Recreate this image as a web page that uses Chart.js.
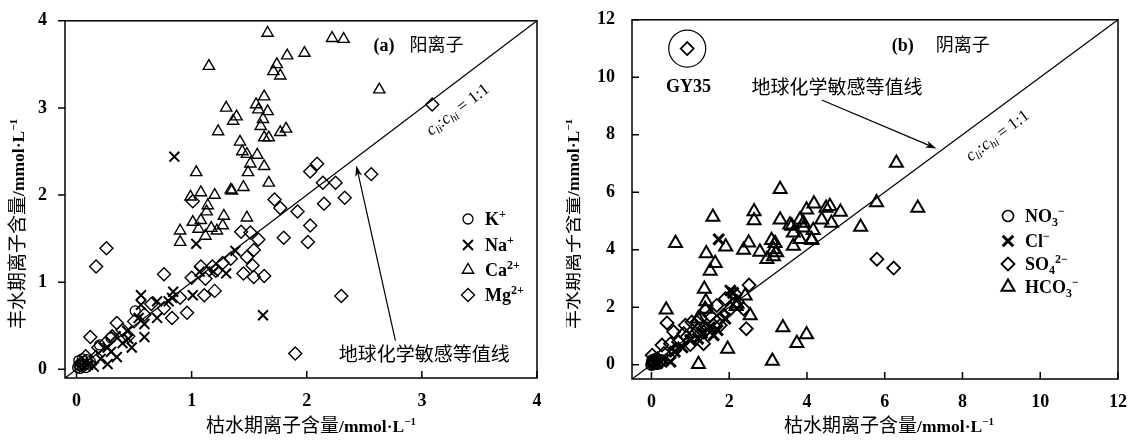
<!DOCTYPE html>
<html>
<head>
<meta charset="utf-8">
<script src="https://cdn.jsdelivr.net/npm/chart.js@4.4.0/dist/chart.umd.min.js"></script>
<style>
  html, body { margin: 0; padding: 0; background: #fff; }
  #wrap { position: relative; width: 1132px; height: 440px; }
  canvas { position: absolute; top: 0; }
</style>
</head>
<body>
<div id="wrap">
  <canvas id="chartA" width="566" height="440" style="left:0"></canvas>
  <canvas id="chartB" width="566" height="440" style="left:566px"></canvas>
</div>
<script>
// ---- data (x = 枯水期, y = 丰水期, mmol/L) ----
const ticksA = [0, 1, 2, 3, 4];
const rangeA = [-0.1, 4];
const ticksB = [0, 2, 4, 6, 8, 10, 12];
const rangeB = [-0.5, 12];

// (a) cations
const kPlus = [[0.01,0.02],[0.02,0.05],[0.03,0.01],[0.04,0.07],[0.05,0.03],[0.06,0.09],[0.07,0.05],[0.08,0.02],
  [0.02,0.10],[0.05,0.12],[0.10,0.06],[0.12,0.09],[0.03,0.04],[0.09,0.11],[0.51,0.67],[0.30,0.36],[0.20,0.28]];
const naPlus = [[0.85,2.44],[1.04,1.44],[1.38,1.36],[1.62,0.62],[1.30,1.10],[1.07,1.12],[1.19,1.12],[1.01,0.85],
  [0.84,0.89],[0.83,0.82],[0.80,0.78],[0.70,0.78],[0.56,0.85],[0.56,0.74],[0.70,0.59],[0.59,0.52],[0.54,0.59],
  [0.59,0.37],[0.44,0.44],[0.34,0.38],[0.27,0.25],[0.48,0.25],[0.21,0.12],[0.15,0.03],[0.35,0.14],[0.27,0.06],
  [0.40,0.30],[0.30,0.20],[0.10,0.05],[0.45,0.35]];
const caPlus = [[1.66,3.86],[2.22,3.80],[2.32,3.79],[1.15,3.48],[1.83,3.60],[1.98,3.63],[1.74,3.50],[1.71,3.42],
  [1.77,3.37],[2.63,3.21],[1.63,3.13],[1.30,3.00],[1.56,3.04],[1.58,2.98],[1.66,2.96],[1.39,2.90],[1.36,2.85],
  [1.62,2.87],[1.60,2.79],[1.23,2.73],[1.77,2.72],[1.82,2.76],[1.63,2.66],[1.67,2.66],[1.42,2.61],[1.44,2.50],
  [1.48,2.47],[1.57,2.46],[1.51,2.36],[1.63,2.33],[1.49,2.26],[1.04,2.26],[1.67,2.14],[1.08,2.03],[1.20,2.00],
  [1.35,2.05],[1.45,2.09],[0.99,1.98],[1.14,1.88],[1.13,1.81],[1.28,1.76],[1.01,1.69],[1.08,1.71],[1.27,1.65],
  [1.48,1.74],[0.90,1.59],[1.06,1.61],[1.22,1.59],[1.12,1.53],[0.90,1.46],[1.17,1.62],[1.34,2.06]];
const mgPlus = [[3.09,3.04],[2.03,2.27],[2.09,2.36],[2.14,2.14],[2.25,2.14],[2.56,2.24],[2.15,1.90],[2.33,1.97],
  [1.92,1.81],[1.72,1.95],[1.77,1.85],[2.03,1.65],[2.01,1.46],[1.80,1.51],[1.43,1.58],[1.51,1.57],[1.58,1.49],
  [1.54,1.37],[1.34,1.27],[1.01,1.93],[2.30,0.84],[1.90,0.18],[0.26,1.39],[0.17,1.18],[0.76,1.09],[1.08,1.18],
  [1.18,1.18],[1.48,1.29],[1.53,1.19],[1.45,1.10],[1.54,1.06],[1.63,1.07],[1.12,1.04],[1.21,1.13],[1.20,0.90],
  [1.11,0.85],[0.96,0.65],[0.83,0.59],[0.90,0.82],[0.76,0.70],[0.59,0.63],[0.35,0.53],[0.50,0.55],[0.12,0.37],
  [0.19,0.25],[0.31,0.38],[0.45,0.38],[0.17,0.14],[0.05,0.06],[0.25,0.30],[0.40,0.45],[0.08,0.15],[0.65,0.75],
  [1.00,1.05],[1.27,1.22]];

// (b) anions
const no3 = [[0.00,0.00],[0.05,0.02],[0.02,0.08],[0.10,0.05],[0.08,0.12],[0.15,0.03],[0.03,0.15],[0.20,0.10],
  [0.12,0.20],[0.25,0.15]];
const clMinus = [[1.73,4.36],[2.03,2.58],[1.60,1.02],[0.49,0.10],[0.30,0.20],[0.60,0.45],[0.80,0.60],[1.00,0.85],
  [1.30,1.10],[1.50,1.30],[1.70,1.20],[1.90,1.60],[2.10,2.50],[0.15,0.05],[1.20,0.90]];
const so4 = [[0.92,11.0],[5.80,3.67],[6.23,3.36],[2.51,2.77],[2.44,1.25],[0.40,1.45],[0.02,0.33],[0.32,0.39],
  [0.57,1.14],[0.70,0.79],[0.87,1.37],[1.04,1.48],[1.09,1.02],[1.26,1.60],[1.34,0.73],[1.51,1.71],[1.68,2.06],
  [1.85,1.71],[1.90,2.29],[1.60,1.37],[2.15,2.46],[2.37,1.94],[1.34,1.14],[0.83,1.08],[0.49,0.73],[0.27,0.68],
  [1.17,1.48],[1.43,1.25],[1.77,1.37],[2.03,1.94],[0.60,0.50],[1.00,0.70],[1.40,1.90],[0.15,0.20],[2.20,2.20],
  [1.20,1.20],[0.90,0.95]];
const hco3 = [[3.31,6.10],[1.58,5.14],[2.64,5.33],[2.64,5.02],[3.31,5.04],[0.62,4.22],[1.91,4.10],[1.41,3.87],
  [1.64,3.53],[1.51,3.26],[2.50,4.24],[2.37,3.99],[2.79,3.92],[2.97,3.67],[3.14,3.76],[3.09,4.33],[3.18,4.22],
  [3.14,4.01],[3.22,3.90],[3.61,4.82],[3.99,5.39],[4.18,5.60],[4.49,5.45],[3.82,5.04],[3.65,4.59],[3.82,4.36],
  [4.12,4.36],[3.91,4.76],[4.38,5.04],[3.65,4.13],[1.36,2.63],[1.38,1.94],[0.38,1.91],[2.18,2.03],[2.54,1.71],
  [2.41,2.40],[3.38,1.29],[3.99,1.05],[3.74,0.74],[1.96,0.54],[3.11,0.13],[1.21,0.01],[0.15,0.10],[6.30,7.02],
  [5.79,5.64],[6.85,5.45],[5.38,4.79],[4.59,5.51],[4.86,5.31],[4.63,4.93],[4.16,4.68],[3.91,4.93],[4.12,4.33],
  [3.56,4.87],[2.20,2.11],[1.40,2.20],[1.20,1.60]];

const gy35 = [0.92, 11.0];

// ---- styling ----
const INK = '#000';
const SERIF = '"Liberation Serif", "Times New Roman", serif';
const CJK = '"Noto Sans CJK SC", sans-serif';
const TICK = 7;

function toPts(arr) { return arr.map(p => ({ x: p[0], y: p[1] })); }

function drawMarker(ctx, m, x, y) {
  const r = m.r;
  ctx.save();
  ctx.strokeStyle = INK;
  ctx.lineWidth = m.lw;
  ctx.beginPath();
  if (m.style === 'circle') {
    ctx.arc(x, y, r, 0, Math.PI * 2);
  } else if (m.style === 'triangle') {
    ctx.moveTo(x, y - r);
    ctx.lineTo(x + 0.866 * r, y + 0.5 * r);
    ctx.lineTo(x - 0.866 * r, y + 0.5 * r);
    ctx.closePath();
  } else if (m.style === 'rectRot') {
    ctx.moveTo(x - r, y); ctx.lineTo(x, y - r); ctx.lineTo(x + r, y); ctx.lineTo(x, y + r);
    ctx.closePath();
  } else if (m.style === 'crossRot') {
    const d = r * 0.707;
    ctx.moveTo(x - d, y - d); ctx.lineTo(x + d, y + d);
    ctx.moveTo(x + d, y - d); ctx.lineTo(x - d, y + d);
  }
  ctx.stroke();
  ctx.restore();
}

function richWidth(ctx, parts) {
  let w = 0;
  parts.forEach(p => { if (p.gap) { w += p.gap; return; } ctx.font = p.f; w += ctx.measureText(p.t).width; });
  return w;
}

// y is the baseline
function drawRich(ctx, parts, x, y, align) {
  let cx = align === 'center' ? x - richWidth(ctx, parts) / 2 : x;
  ctx.textAlign = 'left';
  ctx.textBaseline = 'alphabetic';
  ctx.fillStyle = INK;
  parts.forEach(p => {
    if (p.gap) { cx += p.gap; return; }
    ctx.font = p.f;
    ctx.fillText(p.t, cx, y + (p.dy || 0));
    cx += ctx.measureText(p.t).width;
  });
}

const LAT = 'bold 18px ' + SERIF;
const SUP = { f: 'bold 12px ' + SERIF, dy: -7 };
const SUB = { f: 'bold 12px ' + SERIF, dy: 4 };
function axisTitle(cn) {
  return [{ t: cn, f: '19px ' + CJK }, { t: '/mmol·L', f: 'bold 17.5px ' + SERIF },
          { t: '−1', f: 'bold 11px ' + SERIF, dy: -7 }];
}
const ratioLabel = [
  { t: 'c', f: 'italic 17px ' + SERIF }, { t: 'li', f: 'italic 11px ' + SERIF, dy: 3 },
  { t: ':', f: '17px ' + SERIF },
  { t: 'c', f: 'italic 17px ' + SERIF }, { t: 'hi', f: 'italic 11px ' + SERIF, dy: 3 },
  { t: ' = 1:1', f: '17px ' + SERIF }
];

function arrow(ctx, x0, y0, x1, y1) {
  const a = Math.atan2(y1 - y0, x1 - x0);
  ctx.save();
  ctx.strokeStyle = INK; ctx.fillStyle = INK; ctx.lineWidth = 1.2;
  ctx.beginPath(); ctx.moveTo(x0, y0);
  ctx.lineTo(x1 - 8 * Math.cos(a), y1 - 8 * Math.sin(a)); ctx.stroke();
  ctx.beginPath();
  ctx.moveTo(x1, y1);
  ctx.lineTo(x1 - 11 * Math.cos(a) + 3.5 * Math.sin(a), y1 - 11 * Math.sin(a) - 3.5 * Math.cos(a));
  ctx.lineTo(x1 - 8 * Math.cos(a), y1 - 8 * Math.sin(a));
  ctx.lineTo(x1 - 11 * Math.cos(a) - 3.5 * Math.sin(a), y1 - 11 * Math.sin(a) + 3.5 * Math.cos(a));
  ctx.closePath(); ctx.fill();
  ctx.restore();
}

function panelPlugin(cfg) {
  return {
    id: 'panel' + cfg.name,
    beforeDatasetsDraw(chart) {
      const { ctx, chartArea: a } = chart;
      const xs = chart.scales.x, ys = chart.scales.y;
      ctx.save();
      ctx.strokeStyle = INK;
      ctx.lineWidth = 1.5;
      ctx.strokeRect(a.left, a.top, a.right - a.left, a.bottom - a.top);
      ctx.beginPath();
      xs.ticks.forEach(t => {
        const p = xs.getPixelForValue(t.value);
        ctx.moveTo(p, a.bottom); ctx.lineTo(p, a.bottom - TICK);
      });
      ys.ticks.forEach(t => {
        const p = ys.getPixelForValue(t.value);
        ctx.moveTo(a.left, p); ctx.lineTo(a.left + (cfg.yTickOut ? -TICK : TICK), p);
      });
      ctx.stroke();
      ctx.restore();
    },
    afterDatasetsDraw(chart) {
      const { ctx } = chart;
      const xs = chart.scales.x, ys = chart.scales.y;
      const px = v => xs.getPixelForValue(v), py = v => ys.getPixelForValue(v);
      ctx.save();

      // axis titles
      drawRich(ctx, axisTitle('枯水期离子含量'), cfg.xTitle[0], cfg.xTitle[1] + 7, 'center');
      ctx.save();
      ctx.translate(cfg.yTitle[0], cfg.yTitle[1]);
      ctx.rotate(-Math.PI / 2);
      drawRich(ctx, axisTitle('丰水期离子含量'), 0, 7, 'center');
      ctx.restore();

      // legend
      cfg.legend.forEach((it, i) => {
        const y = cfg.legendRows[i];
        drawMarker(ctx, it.marker, cfg.legendX[0], y);
        drawRich(ctx, it.parts, cfg.legendX[1], y + 6, 'left');
      });

      // panel label
      drawRich(ctx, cfg.panelLabel, px(cfg.panelAt[0]), py(cfg.panelAt[1]) + 6, 'center');

      // 1:1 line label
      const ang = Math.atan2(py(cfg.range[1]) - py(cfg.range[0]), px(cfg.range[1]) - px(cfg.range[0]));
      ctx.save();
      ctx.translate(px(cfg.ratioAt[0]), py(cfg.ratioAt[1]));
      ctx.rotate(ang);
      drawRich(ctx, ratioLabel, 0, 5, 'center');
      ctx.restore();

      // isoline note + arrow
      drawRich(ctx, [{ t: '地球化学敏感等值线', f: '19px ' + CJK }], px(cfg.noteAt[0]), py(cfg.noteAt[1]) + 7, 'center');
      arrow(ctx, px(cfg.arrow[0]), py(cfg.arrow[1]), px(cfg.arrow[2]), py(cfg.arrow[3]));

      if (cfg.ring) {
        ctx.beginPath();
        ctx.lineWidth = 1.2; ctx.strokeStyle = INK;
        ctx.arc(px(cfg.ring[0]), py(cfg.ring[1]), 18.5, 0, Math.PI * 2);
        ctx.stroke();
        drawRich(ctx, [{ t: 'GY35', f: 'bold 18px ' + SERIF }], px(cfg.ringLabel[0]), py(cfg.ringLabel[1]) + 6, 'center');
      }
      ctx.restore();
    }
  };
}

function makeChart(id, cfg) {
  const tickFont = { family: SERIF, size: 18, weight: 'bold' };
  const datasets = cfg.series.map(s => ({
    label: s.name,
    data: toPts(s.data),
    pointStyle: s.marker.style,
    pointRadius: s.marker.r,
    pointHoverRadius: s.marker.r,
    borderWidth: s.marker.lw,
    borderColor: INK,
    backgroundColor: 'rgba(0,0,0,0)',
    order: 1
  }));
  datasets.push({
    type: 'line',
    label: '1:1',
    data: [{ x: cfg.range[0], y: cfg.range[0] }, { x: cfg.range[1], y: cfg.range[1] }],
    borderColor: INK,
    borderWidth: 1.3,
    pointRadius: 0,
    fill: false,
    order: 2
  });
  return new Chart(document.getElementById(id), {
    type: 'scatter',
    data: { datasets },
    options: {
      responsive: false,
      animation: false,
      devicePixelRatio: 1,
      layout: { padding: cfg.pad },
      plugins: { legend: { display: false }, tooltip: { enabled: false } },
      scales: {
        x: {
          type: 'linear', min: cfg.range[0], max: cfg.range[1],
          afterBuildTicks: s => { s.ticks = cfg.ticks.map(v => ({ value: v })); },
          afterFit: s => { s.height = cfg.xH; },
          grid: { display: false }, border: { display: false },
          ticks: { font: tickFont, color: INK, padding: 5, maxRotation: 0 }
        },
        y: {
          type: 'linear', min: cfg.range[0], max: cfg.range[1],
          afterBuildTicks: s => { s.ticks = cfg.ticks.map(v => ({ value: v })); },
          afterFit: s => { s.width = cfg.yW; },
          grid: { display: false }, border: { display: false },
          ticks: { font: tickFont, color: INK, padding: cfg.yPad }
        }
      }
    },
    plugins: [panelPlugin(cfg)]
  });
}

const mkA = {
  K: { style: 'circle', r: 5, lw: 1.3 },
  Na: { style: 'crossRot', r: 7, lw: 2 },
  Ca: { style: 'triangle', r: 6.5, lw: 1.4 },
  Mg: { style: 'rectRot', r: 6.5, lw: 1.4 }
};
const mkB = {
  NO3: { style: 'circle', r: 5.5, lw: 1.6 },
  Cl: { style: 'crossRot', r: 7.5, lw: 3 },
  SO4: { style: 'rectRot', r: 6.5, lw: 1.8 },
  HCO3: { style: 'triangle', r: 7.5, lw: 2 }
};
const B = { f: LAT };

makeChart('chartA', {
  name: 'A',
  range: rangeA, ticks: ticksA,
  pad: { left: 0, right: 29, top: 15, bottom: 0 },
  yW: 65, xH: 62, yPad: 10, yTickOut: true,
  series: [
    { name: 'K+', data: kPlus, marker: mkA.K },
    { name: 'Na+', data: naPlus, marker: mkA.Na },
    { name: 'Ca2+', data: caPlus, marker: mkA.Ca },
    { name: 'Mg2+', data: mgPlus, marker: mkA.Mg }
  ],
  xTitle: [311, 425], yTitle: [17, 224],
  legendX: [468, 485], legendRows: [219, 245, 270, 295],
  legend: [
    { marker: mkA.K, parts: [{ t: 'K', ...B }, { t: '+', ...SUP }] },
    { marker: mkA.Na, parts: [{ t: 'Na', ...B }, { t: '+', ...SUP }] },
    { marker: mkA.Ca, parts: [{ t: 'Ca', ...B }, { t: '2+', ...SUP }] },
    { marker: mkA.Mg, parts: [{ t: 'Mg', ...B }, { t: '2+', ...SUP }] }
  ],
  panelLabel: [{ t: '(a)', f: LAT }, { gap: 15 }, { t: '阳离子', f: '18px ' + CJK }],
  panelAt: [2.97, 3.72],
  ratioAt: [3.31, 2.98],
  noteAt: [3.02, 0.18],
  arrow: [2.77, 0.33, 2.43, 2.34]
});

makeChart('chartB', {
  name: 'B',
  range: rangeB, ticks: ticksB,
  pad: { left: 0, right: 14, top: 15, bottom: 0 },
  yW: 66, xH: 61, yPad: 9, yTickOut: false,
  series: [
    { name: 'NO3-', data: no3, marker: mkB.NO3 },
    { name: 'Cl-', data: clMinus, marker: mkB.Cl },
    { name: 'SO42-', data: so4, marker: mkB.SO4 },
    { name: 'HCO3-', data: hco3, marker: mkB.HCO3 }
  ],
  xTitle: [323, 425], yTitle: [6, 224],
  legendX: [442, 459], legendRows: [216, 241, 264, 287],
  legend: [
    { marker: mkB.NO3, parts: [{ t: 'NO', ...B }, { t: '3', ...SUB }, { t: '−', ...SUP }] },
    { marker: mkB.Cl, parts: [{ t: 'Cl', ...B }, { t: '−', ...SUP }] },
    { marker: mkB.SO4, parts: [{ t: 'SO', ...B }, { t: '4', ...SUB }, { t: '2−', ...SUP }] },
    { marker: mkB.HCO3, parts: [{ t: 'HCO', ...B }, { t: '3', ...SUB }, { t: '−', ...SUP }] }
  ],
  panelLabel: [{ t: '(b)', f: LAT }, { gap: 22 }, { t: '阴离子', f: '18px ' + CJK }],
  panelAt: [7.44, 11.14],
  ratioAt: [8.9, 7.97],
  noteAt: [4.77, 9.66],
  arrow: [4.38, 9.21, 7.33, 7.52],
  ring: gy35, ringLabel: [0.95, 9.69]
});
</script>
</body>
</html>
